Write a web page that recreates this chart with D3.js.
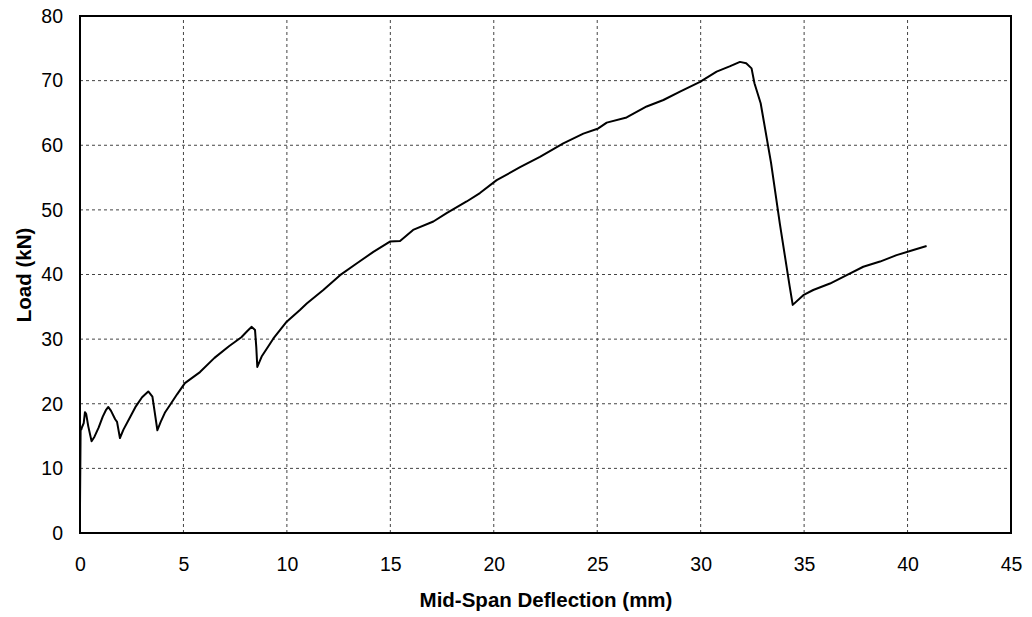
<!DOCTYPE html>
<html>
<head>
<meta charset="utf-8">
<script src="https://cdn.jsdelivr.net/npm/d3@7"></script>
<style>
  body { margin: 0; background: #fff; }
  text { font-family: "Liberation Sans", Arial, sans-serif; }
</style>
</head>
<body>
<script>
// load-deflection readings (mm, kN)
const deflection = [0, 0.03, 0.06, 0.1, 0.18, 0.24, 0.3, 0.4, 0.56, 0.7, 0.9, 1.1, 1.25, 1.37, 1.5, 1.7, 1.79, 1.93, 2.1, 2.4, 2.7, 3.0, 3.3, 3.5, 3.62, 3.74, 3.9, 4.1, 4.35, 4.7, 5.07, 5.8, 6.5, 7.2, 7.8, 8.1, 8.3, 8.46, 8.52, 8.57, 8.78, 9.35, 9.99, 10.63, 10.96, 11.76, 12.57, 13.37, 14.18, 14.98, 15.47, 16.1, 17.08, 17.72, 18.69, 19.33, 20.14, 21.27, 22.23, 23.36, 24.33, 25.05, 25.46, 26.42, 27.39, 28.2, 29.0, 29.97, 30.77, 31.4, 31.9, 32.2, 32.46, 32.6, 32.9, 33.4, 33.83, 34.3, 34.45, 34.96, 35.44, 36.25, 37.06, 37.86, 38.67, 39.47, 40.28, 40.92];
const load = [4.3, 16.2, 16.0, 16.4, 17.0, 18.7, 18.4, 16.5, 14.2, 14.9, 16.3, 18.0, 19.0, 19.5, 18.9, 17.6, 17.2, 14.7, 16.0, 17.8, 19.6, 21.0, 21.9, 21.1, 18.5, 15.9, 17.2, 18.6, 19.8, 21.5, 23.2, 24.9, 27.1, 28.9, 30.3, 31.3, 31.9, 31.4, 28.8, 25.7, 27.3, 30.1, 32.7, 34.5, 35.5, 37.6, 39.9, 41.7, 43.5, 45.1, 45.2, 46.9, 48.2, 49.5, 51.3, 52.6, 54.6, 56.6, 58.2, 60.3, 61.8, 62.6, 63.5, 64.3, 66.0, 67.0, 68.3, 69.8, 71.4, 72.2, 72.9, 72.7, 71.9, 69.6, 66.5, 57.3, 47.8, 38.2, 35.3, 36.8, 37.6, 38.6, 39.9, 41.2, 42.0, 43.0, 43.8, 44.4];

const xTicks = [0, 5, 10, 15, 20, 25, 30, 35, 40, 45];
const yTicks = [0, 10, 20, 30, 40, 50, 60, 70, 80];

const W = 1032, H = 617;
const margin = {left: 80, top: 16, right: 21, bottom: 84};

const svg = d3.select('body').append('svg')
  .attr('width', W)
  .attr('height', H);

const x = d3.scaleLinear().domain([0, 45]).range([margin.left, W - margin.right]);
const y = d3.scaleLinear().domain([0, 80]).range([H - margin.bottom, margin.top]);

// grid
svg.append('g').selectAll('line.vgrid')
  .data(xTicks.slice(1, -1))
  .enter().append('line')
  .attr('x1', d => x(d)).attr('x2', d => x(d))
  .attr('y1', y(0)).attr('y2', y(80))
  .attr('stroke', '#444').attr('stroke-width', 1)
  .attr('stroke-dasharray', '3,3');

svg.append('g').selectAll('line.hgrid')
  .data(yTicks.slice(1, -1))
  .enter().append('line')
  .attr('y1', d => y(d)).attr('y2', d => y(d))
  .attr('x1', x(0)).attr('x2', x(45))
  .attr('stroke', '#444').attr('stroke-width', 1)
  .attr('stroke-dasharray', '3,3');

// axes, labels only
const xAxis = svg.append('g')
  .attr('transform', `translate(0,${y(0)})`)
  .call(d3.axisBottom(x).tickValues(xTicks).tickSize(0).tickPadding(24));
const yAxis = svg.append('g')
  .attr('transform', `translate(${x(0)},0)`)
  .call(d3.axisLeft(y).tickValues(yTicks).tickSize(0).tickPadding(17));

[xAxis, yAxis].forEach(g => {
  g.select('.domain').remove();
  g.selectAll('text').attr('font-size', 19.5).attr('fill', '#000')
    .style('font-family', '"Liberation Sans", Arial, sans-serif');
});

// curve
const pts = deflection.map((d, i) => [d, load[i]]);
svg.append('path')
  .datum(pts)
  .attr('fill', 'none')
  .attr('stroke', '#000')
  .attr('stroke-width', 2)
  .attr('stroke-linejoin', 'round')
  .attr('d', d3.line().x(d => x(d[0])).y(d => y(d[1])));

// frame
svg.append('rect')
  .attr('x', x(0)).attr('y', y(80))
  .attr('width', x(45) - x(0)).attr('height', y(0) - y(80))
  .attr('fill', 'none').attr('stroke', '#000').attr('stroke-width', 2);

svg.append('text')
  .attr('x', 546).attr('y', 607)
  .attr('text-anchor', 'middle')
  .attr('font-size', 20.5).attr('font-weight', 'bold')
  .text('Mid-Span Deflection (mm)');

svg.append('text')
  .attr('transform', `translate(31,275) rotate(-90)`)
  .attr('text-anchor', 'middle')
  .attr('font-size', 20.5).attr('font-weight', 'bold')
  .text('Load (kN)');
</script>
</body>
</html>
